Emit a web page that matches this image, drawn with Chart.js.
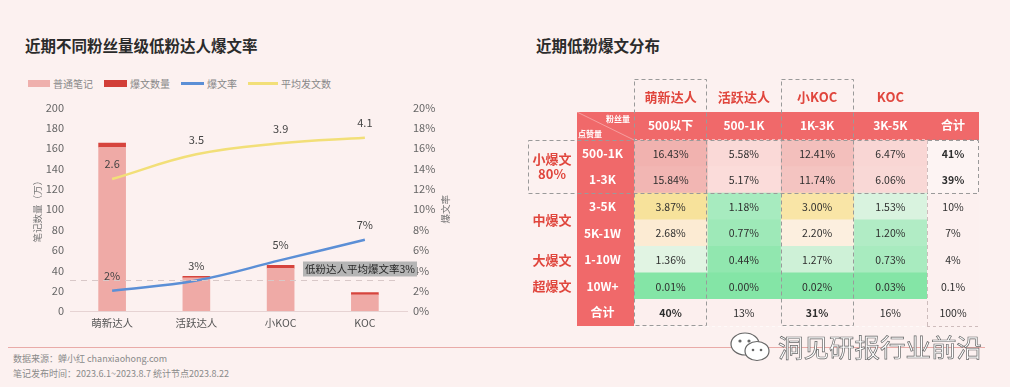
<!DOCTYPE html>
<html>
<head>
<meta charset="utf-8">
<script src="https://cdn.jsdelivr.net/npm/chart.js@4.4.0/dist/chart.umd.min.js"></script>
<style>
  body { margin: 0; width: 1010px; height: 387px; background: #fcf1f0; position: relative; overflow: hidden;
         font-family: "Noto Sans CJK SC", "Noto Sans", sans-serif; }
  .title { position: absolute; top: 36px; font-size: 15.5px; line-height: 18px; font-weight: 700; color: #2b2b2b; }
  .legend { position: absolute; left: 28px; top: 76px; display: flex; align-items: center; font-size: 10px; color: #888; }
  .legend span { display: inline-block; margin-right: 3px; }
  .legend .item { display: flex; align-items: center; margin-right: 11px; }
  canvas { position: absolute; }
  .rule { position: absolute; left: 8px; top: 347px; width: 977px; height: 1px; background: #e9aba8; }
  .note { position: absolute; left: 13px; font-size: 9px; color: #8a8a8a; line-height: 11px; }
  .wx { position: absolute; left: 778px; top: 330px; font-size: 25.5px; line-height: 32px; color: #fff;
        -webkit-text-stroke: 0.7px #666; letter-spacing: 0; }
  .wxicon { position: absolute; left: 728px; top: 331px; }
</style>
</head>
<body>
<div class="title" style="left:25px">近期不同粉丝量级低粉达人爆文率</div>
<div class="title" style="left:536px">近期低粉爆文分布</div>
<div class="legend">
  <div class="item"><span style="width:22px;height:7px;background:#efb0ad"></span>普通笔记</div>
  <div class="item"><span style="width:23px;height:7px;background:#d23f38"></span>爆文数量</div>
  <div class="item"><span style="width:23px;height:2.5px;background:#5b8fd6"></span>爆文率</div>
  <div class="item"><span style="width:30px;height:2.5px;background:#f2df78"></span>平均发文数</div>
</div>
<canvas id="bar" width="490" height="245" style="left:0;top:95px"></canvas>
<canvas id="heat" width="407" height="262" style="left:520px;top:70px"></canvas>
<canvas id="total" width="60" height="262" style="left:927px;top:70px"></canvas>
<div class="rule"></div>
<div class="note" style="top:353px">数据来源：蝉小红 chanxiaohong.com</div>
<div class="note" style="top:368px">笔记发布时间：2023.6.1~2023.8.7 统计节点2023.8.22</div>
<svg class="wxicon" width="46" height="32" viewBox="0 0 46 32">
  <ellipse cx="17" cy="13" rx="14" ry="11" fill="#fff" stroke="#666" stroke-width="1.2"/>
  <ellipse cx="29" cy="20" rx="12" ry="9.5" fill="#fff" stroke="#666" stroke-width="1.2"/>
  <circle cx="12" cy="10" r="1.6" fill="#666"/><circle cx="21" cy="10" r="1.6" fill="#666"/>
  <circle cx="25" cy="19" r="1.3" fill="#666"/><circle cx="33" cy="19" r="1.3" fill="#666"/>
</svg>
<div class="wx">洞见研报行业前沿</div>

<script>
// left chart
const categories = ['萌新达人', '活跃达人', '小KOC', 'KOC'];
const normalNotes = [161, 32.5, 42, 16];
const hotNotes = [4, 1.5, 3, 2];
const hotRate = [2, 3, 5, 7];
const avgPosts = [2.6, 3.5, 3.9, 4.1];
const avgHotRate = 3;

// right table
const fanLevels = ['500以下', '500-1K', '1K-3K', '3K-5K'];
const creatorTypes = ['萌新达人', '活跃达人', '小KOC', 'KOC'];
const likeLevels = ['500-1K', '1-3K', '3-5K', '5K-1W', '1-10W', '10W+', '合计'];
const hotGroups = [['小爆文', '80%'], ['中爆文'], ['大爆文'], ['超爆文']];
const groupRows = [[0, 1], [2, 3], [4, 4], [5, 5]];
const share500 = [16.43, 15.84, 3.87, 2.68, 1.36, 0.01, 40];
const share1K = [5.58, 5.17, 1.18, 0.77, 0.44, 0.00, 13];
const share3K = [12.41, 11.74, 3.00, 2.20, 1.27, 0.02, 31];
const share5K = [6.47, 6.06, 1.53, 1.20, 0.73, 0.03, 16];
const shareTotal = [41, 39, 10, 7, 4, 0.1, 100];
const totalLabel = '合计';

const cellColors = [
  ['#f1b2af', '#f2b6b3', '#f7e29b', '#fcebd3', '#e1f4e3', '#84e5a6', '#fcefee'],
  ['#fad9d7', '#fbdcda', '#a7ebbf', '#9ee9b8', '#91e7af', '#84e5a6', '#fcefee'],
  ['#f3bfbc', '#f4c4c1', '#f9e5a6', '#fcefdf', '#cef1d7', '#84e5a6', '#fcefee'],
  ['#f9d6d4', '#f9d8d6', '#d9f3df', '#b1ecc5', '#a8ebbf', '#84e5a6', '#fcefee']
];
const totalColors = ['#fdf4f3', '#fdf4f3', '#fcf0ef', '#fcf0ef', '#fcf0ef', '#fcf0ef', '#fcf0ef'];
const boxedCols = [0, 2];
const boxedGroup = 0;

const FONT = '"Noto Sans CJK SC", "Noto Sans", sans-serif';
const headRed = '#f0696a';
const textRed = '#e0463d';
Chart.defaults.font.family = FONT;

const lineLabels = {
  id: 'lineLabels',
  afterDatasetsDraw(chart) {
    const ctx = chart.ctx;
    ctx.save();
    ctx.font = '11px ' + FONT;
    ctx.fillStyle = '#444';
    ctx.textAlign = 'center';
    ctx.textBaseline = 'middle';
    chart.data.datasets.forEach((ds, i) => {
      if (ds.type !== 'line') return;
      chart.getDatasetMeta(i).data.forEach((pt, j) => {
        const v = ds.data[j];
        const txt = ds.yAxisID === 'y1' ? v + '%' : v.toFixed(1);
        ctx.fillText(txt, pt.x, pt.y - 15);
      });
    });
    ctx.restore();
  },
  afterDraw(chart) {
    const { ctx, chartArea, scales: { y1 } } = chart;
    const yy = Math.round(y1.getPixelForValue(avgHotRate)) + 0.5;
    ctx.save();
    ctx.strokeStyle = '#d8c8c8';
    ctx.lineWidth = 1.2;
    ctx.setLineDash([6, 5]);
    ctx.beginPath();
    ctx.moveTo(chartArea.left, yy);
    ctx.lineTo(chartArea.right - 8, yy);
    ctx.stroke();
    ctx.setLineDash([]);
    const label = '低粉达人平均爆文率' + avgHotRate + '%';
    ctx.font = '10.5px ' + FONT;
    const w = ctx.measureText(label).width + 4;
    const bx = chartArea.right + 10 - w;
    ctx.fillStyle = '#b5b5b5';
    ctx.fillRect(bx, yy - 19, w, 15);
    ctx.fillStyle = '#262626';
    ctx.textBaseline = 'middle';
    ctx.fillText(label, bx + 2, yy - 11.5);
    // right axis title, reading bottom to top
    ctx.translate(y1.right - 7, (chartArea.top + chartArea.bottom) / 2);
    ctx.rotate(-Math.PI / 2);
    ctx.font = '9.5px ' + FONT;
    ctx.fillStyle = '#777';
    ctx.textAlign = 'center';
    ctx.fillText('爆文率', 0, 0);
    ctx.restore();
  }
};

new Chart(document.getElementById('bar'), {
  type: 'bar',
  data: {
    labels: categories,
    datasets: [
      { type: 'line', label: '爆文率', data: hotRate, yAxisID: 'y1', borderColor: '#5b8fd6', borderWidth: 2.5,
        tension: 0.4, pointRadius: 0, order: 0 },
      { type: 'line', label: '平均发文数', data: avgPosts, yAxisID: 'y2', borderColor: '#f2df78', borderWidth: 2.5,
        tension: 0.4, pointRadius: 0, order: 0 },
      { label: '普通笔记', data: normalNotes, backgroundColor: '#efaaa6', stack: 'notes', barThickness: 27, order: 1 },
      { label: '爆文数量', data: hotNotes, backgroundColor: '#d6443d', stack: 'notes', barThickness: 27, order: 1 }
    ]
  },
  options: {
    responsive: false,
    animation: false,
    layout: { padding: { left: 28, right: 38, top: 9, bottom: 0 } },
    plugins: { legend: { display: false }, tooltip: { enabled: false } },
    scales: {
      x: {
        stacked: true,
        grid: { display: false, drawTicks: false },
        border: { color: '#e6d3d3' },
        ticks: { color: '#555', font: { size: 10.5 }, padding: 6 },
        afterFit: s => { s.height = 29; }
      },
      y: {
        position: 'left', stacked: true, min: 0, max: 200,
        ticks: { stepSize: 20, color: '#666', font: { size: 11 }, padding: 6 },
        grid: { display: false, drawTicks: false },
        border: { display: false },
        title: { display: true, text: '笔记数量（万）', color: '#777', font: { size: 9.5 }, padding: { top: 4, bottom: 0 } },
        afterFit: s => { s.width = 42; }
      },
      y1: {
        position: 'right', min: 0, max: 20,
        ticks: { stepSize: 2, color: '#666', font: { size: 11 }, padding: 6, callback: v => v + '%' },
        grid: { display: false, drawTicks: false },
        border: { display: false },
        afterFit: s => { s.width = 45; }
      },
      y2: { display: false, min: -2.2, max: 5.2 }
    }
  },
  plugins: [lineLabels]
});

// heat table
function cellText(v, r, isTotal) {
  return (isTotal || r === likeLevels.length - 1) ? v + '%' : v.toFixed(2) + '%';
}

function isBold(r, c, isTotal) {
  if (isTotal) return groupRows[boxedGroup].includes(r);
  return r === likeLevels.length - 1 && boxedCols.includes(c);
}

const heatDecor = {
  id: 'heatDecor',
  beforeDraw(chart) {
    const { ctx, scales: { x, y } } = chart;
    const opts = chart.options.plugins.heatDecor;
    ctx.save();
    ctx.fillStyle = headRed;
    ctx.fillRect(x.left, x.top, x.right - x.left, x.bottom - x.top);
    if (opts.main) {
      ctx.fillRect(y.left, x.top, y.right - y.left, y.bottom - x.top);
      // corner cell
      ctx.strokeStyle = 'rgba(255,255,255,0.35)';
      ctx.lineWidth = 1;
      ctx.beginPath();
      ctx.moveTo(y.left, x.top);
      ctx.lineTo(y.right, x.bottom);
      ctx.stroke();
      ctx.fillStyle = '#fff';
      ctx.font = '700 8px ' + FONT;
      ctx.textBaseline = 'middle';
      ctx.textAlign = 'right';
      ctx.fillText('粉丝量', y.right - 4, x.top + 7);
      ctx.textAlign = 'left';
      ctx.fillText('点赞量', y.left + 1, x.bottom - 6);
    }
    ctx.restore();
  },
  afterDatasetsDraw(chart) {
    const ctx = chart.ctx;
    ctx.save();
    ctx.fillStyle = '#2e2e2e';
    ctx.textAlign = 'center';
    ctx.textBaseline = 'middle';
    chart.data.datasets.forEach((ds, c) => {
      chart.getDatasetMeta(c).data.forEach((bar, r) => {
        const bold = isBold(r, c, ds.isTotal);
        ctx.font = (bold ? '700 ' : '400 ') + '10.5px ' + FONT;
        ctx.fillText(cellText(ds.shares[r], r, ds.isTotal), (bar.x + bar.base) / 2, bar.y + 0.5);
      });
    });
    ctx.restore();
  },
  afterDraw(chart) {
    const { ctx, chartArea, scales: { x, y } } = chart;
    const opts = chart.options.plugins.heatDecor;
    const rowH = y.getPixelForValue(1) - y.getPixelForValue(0);
    const g = groupRows[boxedGroup];
    const gTop = Math.round(y.getPixelForValue(g[0]) - rowH / 2) + 0.5;
    const gBot = Math.round(y.getPixelForValue(g[1]) + rowH / 2) + 0.5;
    ctx.save();
    ctx.strokeStyle = '#9a9a9a';
    ctx.lineWidth = 1;
    ctx.setLineDash([4, 3]);
    if (opts.main) {
      ctx.strokeRect(8.5, gTop, chart.width + 20, gBot - gTop);
      boxedCols.forEach(c => {
        const x0 = Math.round(x.getPixelForValue(c)) + 0.5;
        const x1 = Math.round(x.getPixelForValue(c + 1)) - 0.5;
        ctx.strokeRect(x0, x.top - 32.5, x1 - x0, chartArea.bottom - x.top + 32);
      });
      ctx.setLineDash([]);
      ctx.fillStyle = textRed;
      ctx.textAlign = 'center';
      ctx.textBaseline = 'middle';
      ctx.font = '700 13px ' + FONT;
      creatorTypes.forEach((name, c) => {
        ctx.fillText(name, (x.getPixelForValue(c) + x.getPixelForValue(c + 1)) / 2, x.top - 15);
      });
      hotGroups.forEach((lines, k) => {
        const cy = (y.getPixelForValue(groupRows[k][0]) + y.getPixelForValue(groupRows[k][1])) / 2;
        lines.forEach((line, j) => {
          ctx.fillText(line, y.left - 25, cy + (j - (lines.length - 1) / 2) * 15);
        });
      });
    } else {
      ctx.strokeRect(-20, gTop, chartArea.right - 0.5 + 20, gBot - gTop);
      ctx.strokeStyle = '#cdbcbc';
      ctx.beginPath();
      ctx.moveTo(0.5, chartArea.top);
      ctx.lineTo(0.5, chartArea.bottom);
      ctx.stroke();
    }
    ctx.restore();
  }
};

function gridOptions(labels, main) {
  return {
    indexAxis: 'y',
    responsive: false,
    animation: false,
    layout: { padding: { left: main ? 57 : 0, right: main ? 0 : 8, top: 42, bottom: 6 } },
    plugins: { legend: { display: false }, tooltip: { enabled: false }, heatDecor: { main } },
    scales: {
      x: {
        type: 'linear', position: 'top', stacked: true, min: 0, max: labels.length,
        grid: { display: false, drawTicks: false },
        border: { display: false },
        afterBuildTicks: s => { s.ticks = labels.map((_, i) => ({ value: i + 0.5 })); },
        afterFit: s => { s.height = 28; s.paddingLeft = 0; s.paddingRight = 0; },
        ticks: { autoSkip: false, maxRotation: 0, padding: 7, color: '#fff',
                 font: { size: 12, weight: '600' }, callback: (v, i) => labels[i] }
      },
      y: {
        stacked: true, z: 1,
        grid: { color: main ? 'rgba(255,255,255,0.55)' : 'rgba(160,135,135,0.5)', drawTicks: false },
        border: { display: false, dash: [3, 3] },
        afterFit: s => { s.width = main ? 57 : 0; s.paddingTop = 0; s.paddingBottom = 0; },
        ticks: { display: main, crossAlign: 'center', padding: 11, color: '#fff', font: { size: 12, weight: '600' } }
      }
    }
  };
}

const shareCols = [share500, share1K, share3K, share5K];
new Chart(document.getElementById('heat'), {
  type: 'bar',
  data: {
    labels: likeLevels,
    datasets: shareCols.map((vals, c) => ({
      label: fanLevels[c],
      data: vals.map(() => 1),
      shares: vals,
      backgroundColor: cellColors[c],
      borderWidth: 0,
      barPercentage: 1,
      categoryPercentage: 1
    }))
  },
  options: gridOptions(fanLevels, true),
  plugins: [heatDecor]
});

new Chart(document.getElementById('total'), {
  type: 'bar',
  data: {
    labels: likeLevels,
    datasets: [{
      label: totalLabel,
      data: shareTotal.map(() => 1),
      shares: shareTotal,
      isTotal: true,
      backgroundColor: totalColors,
      borderWidth: 0,
      barPercentage: 1,
      categoryPercentage: 1
    }]
  },
  options: gridOptions([totalLabel], false),
  plugins: [heatDecor]
});
</script>
</body>
</html>
